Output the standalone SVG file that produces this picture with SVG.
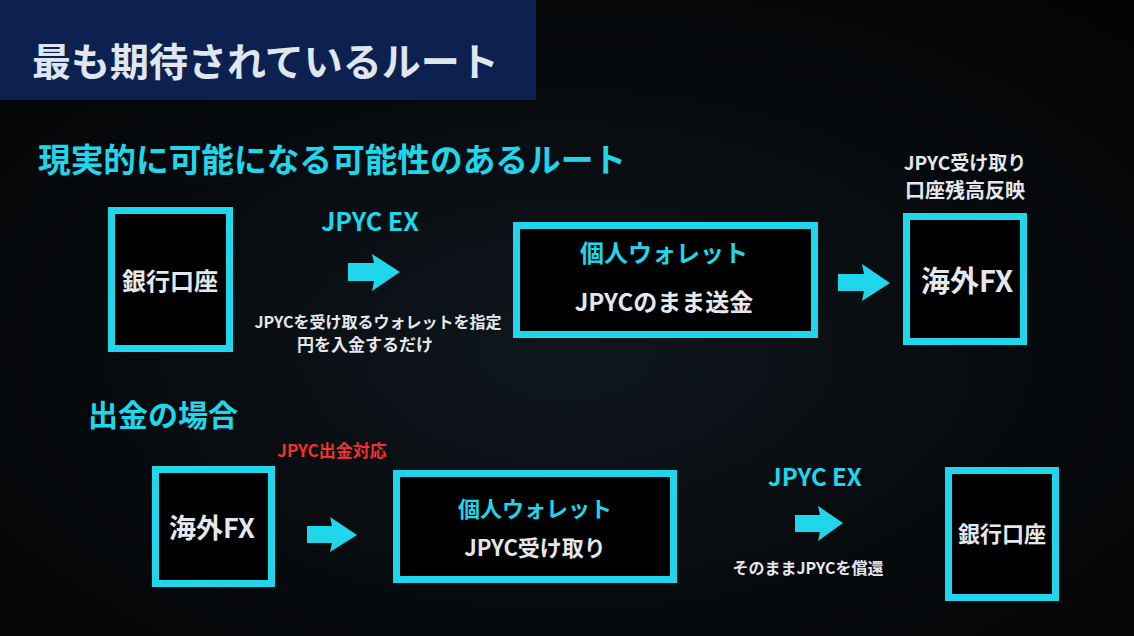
<svg xmlns="http://www.w3.org/2000/svg" width="1134" height="636" viewBox="0 0 1134 636">
<defs>
<radialGradient id="bg" cx="0.5" cy="0.55" r="0.7">
<stop offset="0" stop-color="#0f171d"/>
<stop offset="0.6" stop-color="#070a0d"/>
<stop offset="1" stop-color="#030405"/>
</radialGradient>
<style>
.box{fill:#000;stroke:#1fd6ea;stroke-width:7}
.arrow{fill:#1fd6ea}
text{font-family:"Noto Sans CJK JP","Noto Sans",sans-serif;font-weight:700;text-anchor:middle}
.cy{fill:#1fd6ea}
.wh{fill:#e4e8ec}
.red{fill:#f0332b}
</style>
</defs>
<rect width="1134" height="636" fill="url(#bg)"/>
<g id="title">
<rect x="0" y="0" width="536" height="100" fill="#0c2150"/>
<text x="32" y="76" font-size="39" font-weight="900" style="text-anchor:start" fill="#dfe6ee">最も期待されているルート</text>
</g>
<g id="subtitle">
<text class="cy" x="38" y="172" font-size="33" font-weight="900" style="text-anchor:start" textLength="588" lengthAdjust="spacingAndGlyphs">現実的に可能になる可能性のあるルート</text>
</g>
<g id="section2">
<text class="cy" x="88" y="426" font-size="30" font-weight="900" style="text-anchor:start">出金の場合</text>
</g>
<g id="connectors">
<polygon class="arrow" points="348,263 374,263 372,254 400,272 372,291 374,281 348,281"/>
<polygon class="arrow" points="838,274 864,274 862,264 890,283 862,301 864,291 838,291"/>
<polygon class="arrow" points="307,526 332,526 330,517 357,535 330,552 332,543 307,543"/>
<polygon class="arrow" points="795,515 820,515 818,506 843,523 818,541 820,532 795,532"/>
<text class="cy" x="370" y="231" font-size="25">JPYC EX</text>
<text class="wh" x="378" y="328" font-size="16">JPYCを受け取るウォレットを指定</text>
<text class="wh" x="365" y="351" font-size="17">円を入金するだけ</text>
<text class="red" x="332" y="457" font-size="17">JPYC出金対応</text>
<text class="cy" x="815" y="486" font-size="24">JPYC EX</text>
<text class="wh" x="808" y="574" font-size="16">そのままJPYCを償還</text>
</g>
<g id="bank1">
<rect class="box" x="111.5" y="210.5" width="118" height="138"/>
<text class="wh" x="170" y="290" font-size="24">銀行口座</text>
</g>
<g id="wallet1">
<rect class="box" x="516.5" y="225.5" width="298" height="109"/>
<text class="cy" x="664" y="262" font-size="24">個人ウォレット</text>
<text class="wh" x="664" y="311" font-size="24">JPYCのまま送金</text>
</g>
<g id="fx1">
<text class="wh" x="965" y="170" font-size="19">JPYC受け取り</text>
<text class="wh" x="965" y="198" font-size="20">口座残高反映</text>
<rect class="box" x="906.5" y="216.5" width="117" height="125"/>
<text class="wh" x="967" y="292" font-size="29">海外FX</text>
</g>
<g id="fx2">
<rect class="box" x="155.5" y="469.5" width="116" height="114"/>
<text class="wh" x="212" y="538" font-size="27">海外FX</text>
</g>
<g id="wallet2">
<rect class="box" x="396.5" y="473.5" width="277" height="106"/>
<text class="cy" x="535" y="517" font-size="22">個人ウォレット</text>
<text class="wh" x="535" y="556" font-size="22">JPYC受け取り</text>
</g>
<g id="bank2">
<rect class="box" x="948.5" y="470.5" width="107" height="127"/>
<text class="wh" x="1002" y="542" font-size="22">銀行口座</text>
</g>
</svg>
